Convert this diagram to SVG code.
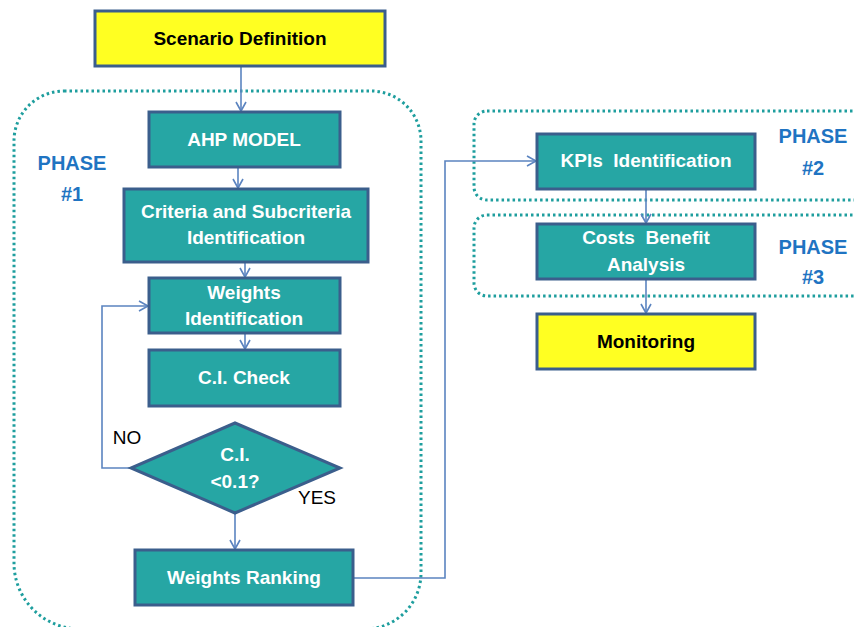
<svg xmlns="http://www.w3.org/2000/svg" width="854" height="627" viewBox="0 0 854 627">
<defs>
<style>
.box{fill:#26A6A4;stroke:#3B5E8C;stroke-width:3}
.yel{fill:#FFFF22;stroke:#3B5E8C;stroke-width:3}
.t{font-family:"Liberation Sans",Arial,sans-serif;font-weight:bold;font-size:19px;fill:#FFFFFF;text-anchor:middle}
.tk{font-family:"Liberation Sans",Arial,sans-serif;font-weight:bold;font-size:19px;fill:#000000;text-anchor:middle}
.ph{font-family:"Liberation Sans",Arial,sans-serif;font-weight:bold;font-size:20px;fill:#1F74C2;text-anchor:middle}
.lb{font-family:"Liberation Sans",Arial,sans-serif;font-size:19px;fill:#000000;text-anchor:middle}
.dot{fill:none;stroke:#1E9E9E;stroke-width:3;stroke-dasharray:2.5 3}
.c{fill:none;stroke:#5B84C0;stroke-width:1.6}
</style>
<marker id="arr" markerUnits="userSpaceOnUse" markerWidth="14" markerHeight="14" refX="10" refY="6" orient="auto">
<path d="M1,1 L10,6 L1,11" fill="none" stroke="#5B84C0" stroke-width="1.6"/>
</marker>
</defs>
<rect width="854" height="627" fill="#FFFFFF"/>

<g id="phase-areas">
<path class="dot" d="M64,91 H371 A50,50 0 0 1 421,141 V573 A56,56 0 0 1 365,629 H80 A66,66 0 0 1 14,563 V141 A50,50 0 0 1 64,91 Z"/>
<rect class="dot" x="474" y="111" width="420" height="89" rx="13"/>
<rect class="dot" x="474" y="215" width="420" height="81" rx="13"/>
</g>

<g id="phase-labels">
<text class="ph" x="72" y="170">PHASE</text>
<text class="ph" x="72" y="201">#1</text>
<text class="ph" x="813" y="143">PHASE</text>
<text class="ph" x="813" y="175">#2</text>
<text class="ph" x="813" y="254">PHASE</text>
<text class="ph" x="813" y="284">#3</text>
</g>

<g id="connectors">
<path class="c" d="M241,66 V111" marker-end="url(#arr)"/>
<path class="c" d="M238,167 V188" marker-end="url(#arr)"/>
<path class="c" d="M245,262 V277" marker-end="url(#arr)"/>
<path class="c" d="M245,333 V349" marker-end="url(#arr)"/>
<path class="c" d="M235,513 V549" marker-end="url(#arr)"/>
<path class="c" d="M131,468 H102 V306 H148" marker-end="url(#arr)"/>
<path class="c" d="M353,578 H445 V161 H536" marker-end="url(#arr)"/>
<path class="c" d="M646,189 V223" marker-end="url(#arr)"/>
<path class="c" d="M646,279 V313" marker-end="url(#arr)"/>
</g>

<g id="scenario">
<rect class="yel" x="95" y="11" width="290" height="55"/>
<text class="tk" x="240" y="45">Scenario Definition</text>
</g>
<g id="ahp">
<rect class="box" x="149" y="112" width="191" height="55"/>
<text class="t" x="244" y="146">AHP MODEL</text>
</g>
<g id="criteria">
<rect class="box" x="124" y="189" width="244" height="73"/>
<text class="t" x="246" y="218">Criteria and Subcriteria</text>
<text class="t" x="246" y="244">Identification</text>
</g>
<g id="weights-id">
<rect class="box" x="149" y="278" width="191" height="55"/>
<text class="t" x="244" y="299">Weights</text>
<text class="t" x="244" y="325">Identification</text>
</g>
<g id="ci-check">
<rect class="box" x="149" y="350" width="191" height="56"/>
<text class="t" x="244" y="384">C.I. Check</text>
</g>
<g id="decision">
<polygon class="box" points="235,423 340,468 235,513 131,468"/>
<text class="t" x="235" y="461">C.I.</text>
<text class="t" x="235" y="488">&lt;0.1?</text>
</g>
<g id="ranking">
<rect class="box" x="135" y="550" width="218" height="55"/>
<text class="t" x="244" y="584">Weights Ranking</text>
</g>
<g id="kpis">
<rect class="box" x="537" y="134" width="218" height="55"/>
<text class="t" x="646" y="167" xml:space="preserve">KPIs  Identification</text>
</g>
<g id="costs">
<rect class="box" x="537" y="224" width="218" height="55"/>
<text class="t" x="646" y="244" xml:space="preserve">Costs  Benefit</text>
<text class="t" x="646" y="271">Analysis</text>
</g>
<g id="monitoring">
<rect class="yel" x="537" y="314" width="218" height="55"/>
<text class="tk" x="646" y="348">Monitoring</text>
</g>

<g id="labels">
<text class="lb" x="127" y="444">NO</text>
<text class="lb" x="317" y="504">YES</text>
</g>
</svg>
